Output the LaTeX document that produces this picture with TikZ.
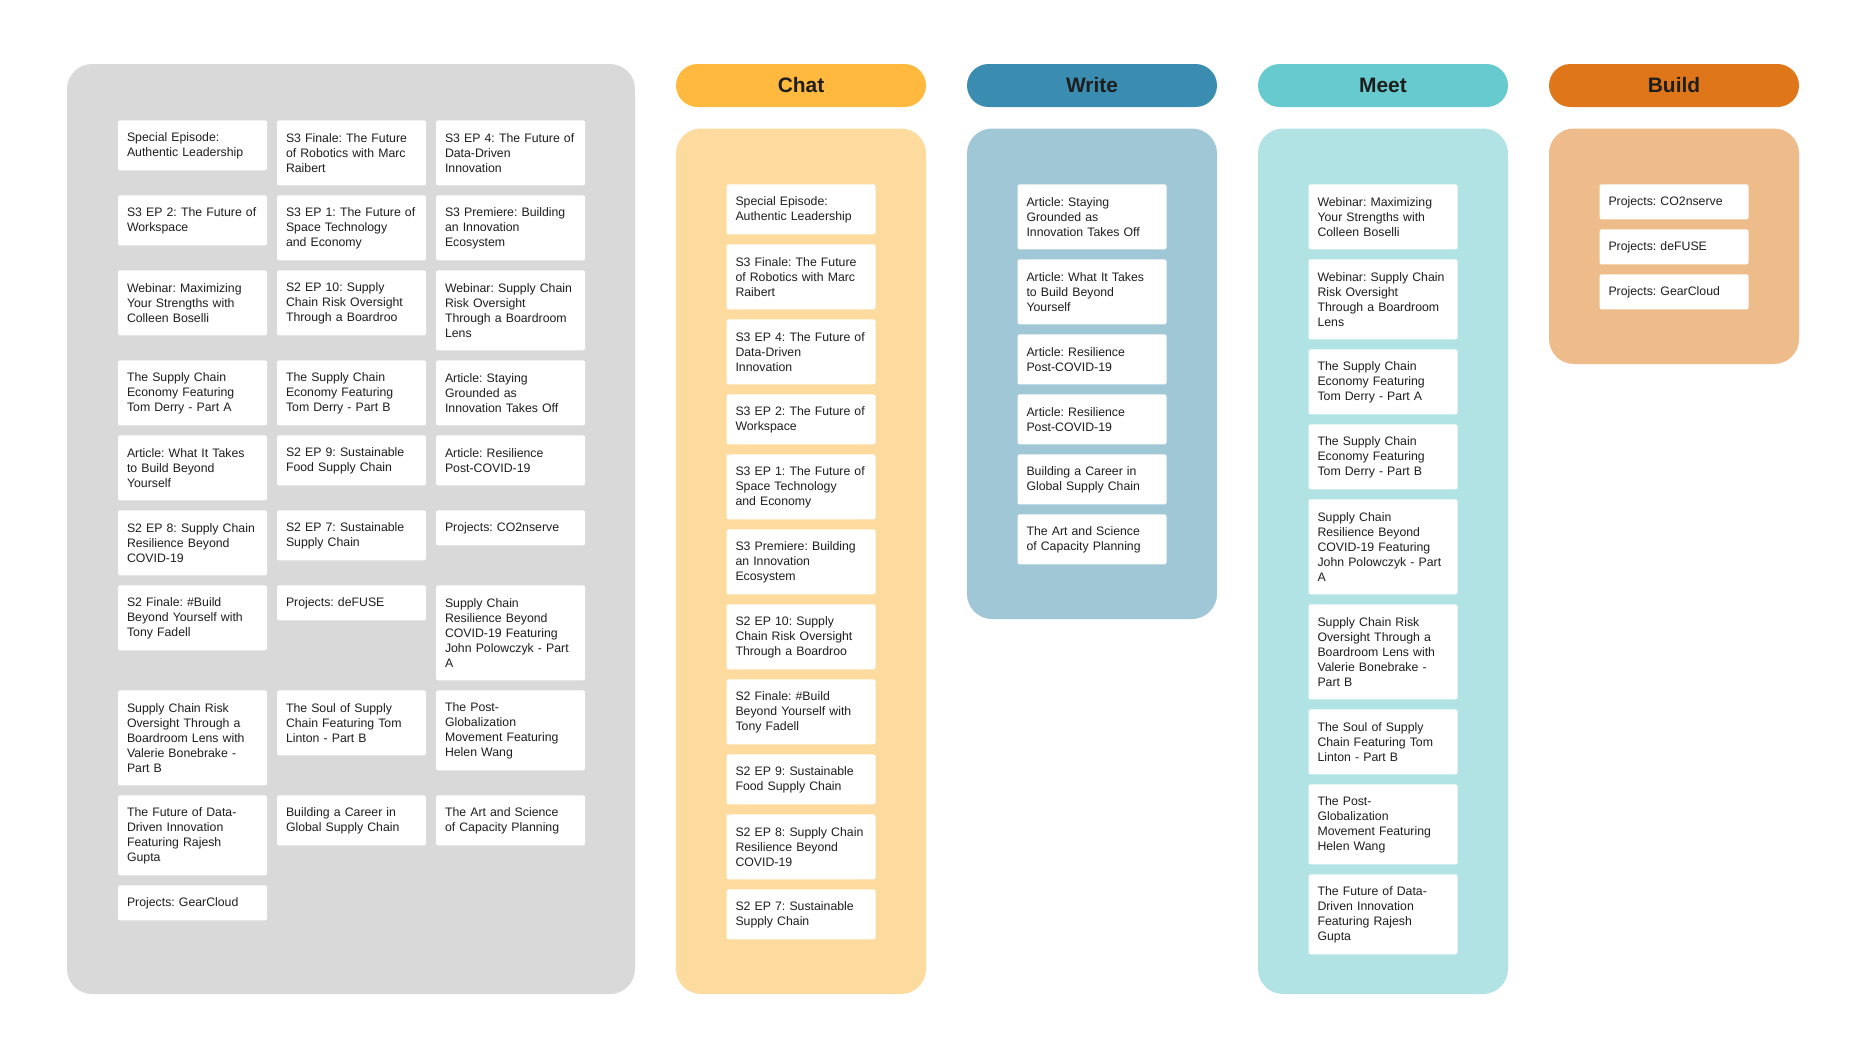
\documentclass[tikz,border=0pt]{standalone}
\usepackage{fontspec}
\setmainfont{Liberation Sans}
\frenchspacing
\definecolor{panelgray}{HTML}{D9D9D9}
\definecolor{chatdark}{HTML}{FFB93F}
\definecolor{chatlight}{HTML}{FDDB9E}
\definecolor{writedark}{HTML}{3A8CB0}
\definecolor{writelight}{HTML}{9FC7D6}
\definecolor{meetdark}{HTML}{66CACE}
\definecolor{meetlight}{HTML}{B1E3E5}
\definecolor{builddark}{HTML}{E0761A}
\definecolor{buildlight}{HTML}{EEBB8A}
\definecolor{inktext}{HTML}{1E1E1E}
\tikzset{
  card/.style={fill=white, rounded corners=0.04cm, anchor=north, align=left, text width=2.62cm,
    inner xsep=0.18cm, inner ysep=0pt, minimum height=0.4cm+#1*0.3cm,
    font=\fontsize{7}{8.54}\selectfont\frenchspacing, text=inktext},
  pill/.style={rounded corners=0.43cm, minimum width=5cm, minimum height=0.86cm,
    font=\fontsize{11.9}{14}\selectfont\bfseries, text=inktext},
  hchat/.style={pill, fill=chatdark}, hwrite/.style={pill, fill=writedark},
  hmeet/.style={pill, fill=meetdark}, hbuild/.style={pill, fill=builddark},
  lane/.style={rounded corners=0.5cm},
}

\begin{document}
\begin{tikzpicture}
    \useasboundingbox (0,0) rectangle (37.34,-21.18);
    % backlog of all items
    \fill[panelgray, lane] (1.34,-1.28) rectangle (12.70,-19.88);
    \node[card=2] (pool1a) at (3.85,-2.40) {Special Episode:\\Authentic Leadership};
    \node[card=3] (pool1b) at (7.03,-2.40) {S3 Finale: The Future\\of Robotics with Marc\\Raibert};
    \node[card=3] (pool1c) at (10.21,-2.40) {S3 EP 4: The Future of\\Data-Driven\\Innovation};
    \node[card=2] (pool2a) at (3.85,-3.90) {S3 EP 2: The Future of\\Workspace};
    \node[card=3] (pool2b) at (7.03,-3.90) {S3 EP 1: The Future of\\Space Technology\\and Economy};
    \node[card=3] (pool2c) at (10.21,-3.90) {S3 Premiere: Building\\an Innovation\\Ecosystem};
    \node[card=3] (pool3a) at (3.85,-5.40) {Webinar: Maximizing\\Your Strengths with\\Colleen Boselli};
    \node[card=3] (pool3b) at (7.03,-5.40) {S2 EP 10: Supply\\Chain Risk Oversight\\Through a Boardroo};
    \node[card=4] (pool3c) at (10.21,-5.40) {Webinar: Supply Chain\\Risk Oversight\\Through a Boardroom\\Lens};
    \node[card=3] (pool4a) at (3.85,-7.20) {The Supply Chain\\Economy Featuring\\Tom Derry - Part A};
    \node[card=3] (pool4b) at (7.03,-7.20) {The Supply Chain\\Economy Featuring\\Tom Derry - Part B};
    \node[card=3] (pool4c) at (10.21,-7.20) {Article: Staying\\Grounded as\\Innovation Takes Off};
    \node[card=3] (pool5a) at (3.85,-8.70) {Article: What It Takes\\to Build Beyond\\Yourself};
    \node[card=2] (pool5b) at (7.03,-8.70) {S2 EP 9: Sustainable\\Food Supply Chain};
    \node[card=2] (pool5c) at (10.21,-8.70) {Article: Resilience\\Post-COVID-19};
    \node[card=3] (pool6a) at (3.85,-10.20) {S2 EP 8: Supply Chain\\Resilience Beyond\\COVID-19};
    \node[card=2] (pool6b) at (7.03,-10.20) {S2 EP 7: Sustainable\\Supply Chain};
    \node[card=1] (pool6c) at (10.21,-10.20) {Projects: CO2nserve};
    \node[card=3] (pool7a) at (3.85,-11.70) {S2 Finale: \#Build\\Beyond Yourself with\\Tony Fadell};
    \node[card=1] (pool7b) at (7.03,-11.70) {Projects: deFUSE};
    \node[card=5] (pool7c) at (10.21,-11.70) {Supply Chain\\Resilience Beyond\\COVID-19 Featuring\\John Polowczyk - Part\\A};
    \node[card=5] (pool8a) at (3.85,-13.80) {Supply Chain Risk\\Oversight Through a\\Boardroom Lens with\\Valerie Bonebrake -\\Part B};
    \node[card=3] (pool8b) at (7.03,-13.80) {The Soul of Supply\\Chain Featuring Tom\\Linton - Part B};
    \node[card=4] (pool8c) at (10.21,-13.80) {The Post-\\Globalization\\Movement Featuring\\Helen Wang};
    \node[card=4] (pool9a) at (3.85,-15.90) {The Future of Data-\\Driven Innovation\\Featuring Rajesh\\Gupta};
    \node[card=2] (pool9b) at (7.03,-15.90) {Building a Career in\\Global Supply Chain};
    \node[card=2] (pool9c) at (10.21,-15.90) {The Art and Science\\of Capacity Planning};
    \node[card=1] (pool10a) at (3.85,-17.70) {Projects: GearCloud};
    % chat
    \node[hchat] (chathead) at (16.02,-1.71) {Chat};
    \fill[chatlight, lane] (13.52,-2.57) rectangle (18.52,-19.88);
    \node[card=2] (chat1) at (16.02,-3.68) {Special Episode:\\Authentic Leadership};
    \node[card=3] (chat2) at (16.02,-4.88) {S3 Finale: The Future\\of Robotics with Marc\\Raibert};
    \node[card=3] (chat3) at (16.02,-6.38) {S3 EP 4: The Future of\\Data-Driven\\Innovation};
    \node[card=2] (chat4) at (16.02,-7.88) {S3 EP 2: The Future of\\Workspace};
    \node[card=3] (chat5) at (16.02,-9.08) {S3 EP 1: The Future of\\Space Technology\\and Economy};
    \node[card=3] (chat6) at (16.02,-10.58) {S3 Premiere: Building\\an Innovation\\Ecosystem};
    \node[card=3] (chat7) at (16.02,-12.08) {S2 EP 10: Supply\\Chain Risk Oversight\\Through a Boardroo};
    \node[card=3] (chat8) at (16.02,-13.58) {S2 Finale: \#Build\\Beyond Yourself with\\Tony Fadell};
    \node[card=2] (chat9) at (16.02,-15.08) {S2 EP 9: Sustainable\\Food Supply Chain};
    \node[card=3] (chat10) at (16.02,-16.28) {S2 EP 8: Supply Chain\\Resilience Beyond\\COVID-19};
    \node[card=2] (chat11) at (16.02,-17.78) {S2 EP 7: Sustainable\\Supply Chain};
    % write
    \node[hwrite] (writehead) at (21.84,-1.71) {Write};
    \fill[writelight, lane] (19.34,-2.57) rectangle (24.34,-12.38);
    \node[card=3] (write1) at (21.84,-3.68) {Article: Staying\\Grounded as\\Innovation Takes Off};
    \node[card=3] (write2) at (21.84,-5.18) {Article: What It Takes\\to Build Beyond\\Yourself};
    \node[card=2] (write3) at (21.84,-6.68) {Article: Resilience\\Post-COVID-19};
    \node[card=2] (write4) at (21.84,-7.88) {Article: Resilience\\Post-COVID-19};
    \node[card=2] (write5) at (21.84,-9.08) {Building a Career in\\Global Supply Chain};
    \node[card=2] (write6) at (21.84,-10.28) {The Art and Science\\of Capacity Planning};
    % meet
    \node[hmeet] (meethead) at (27.66,-1.71) {Meet};
    \fill[meetlight, lane] (25.16,-2.57) rectangle (30.16,-19.88);
    \node[card=3] (meet1) at (27.66,-3.68) {Webinar: Maximizing\\Your Strengths with\\Colleen Boselli};
    \node[card=4] (meet2) at (27.66,-5.18) {Webinar: Supply Chain\\Risk Oversight\\Through a Boardroom\\Lens};
    \node[card=3] (meet3) at (27.66,-6.98) {The Supply Chain\\Economy Featuring\\Tom Derry - Part A};
    \node[card=3] (meet4) at (27.66,-8.48) {The Supply Chain\\Economy Featuring\\Tom Derry - Part B};
    \node[card=5] (meet5) at (27.66,-9.98) {Supply Chain\\Resilience Beyond\\COVID-19 Featuring\\John Polowczyk - Part\\A};
    \node[card=5] (meet6) at (27.66,-12.08) {Supply Chain Risk\\Oversight Through a\\Boardroom Lens with\\Valerie Bonebrake -\\Part B};
    \node[card=3] (meet7) at (27.66,-14.18) {The Soul of Supply\\Chain Featuring Tom\\Linton - Part B};
    \node[card=4] (meet8) at (27.66,-15.68) {The Post-\\Globalization\\Movement Featuring\\Helen Wang};
    \node[card=4] (meet9) at (27.66,-17.48) {The Future of Data-\\Driven Innovation\\Featuring Rajesh\\Gupta};
    % build
    \node[hbuild] (buildhead) at (33.48,-1.71) {Build};
    \fill[buildlight, lane] (30.98,-2.57) rectangle (35.98,-7.28);
    \node[card=1] (build1) at (33.48,-3.68) {Projects: CO2nserve};
    \node[card=1] (build2) at (33.48,-4.58) {Projects: deFUSE};
    \node[card=1] (build3) at (33.48,-5.48) {Projects: GearCloud};
  \end{tikzpicture}
\end{document}
